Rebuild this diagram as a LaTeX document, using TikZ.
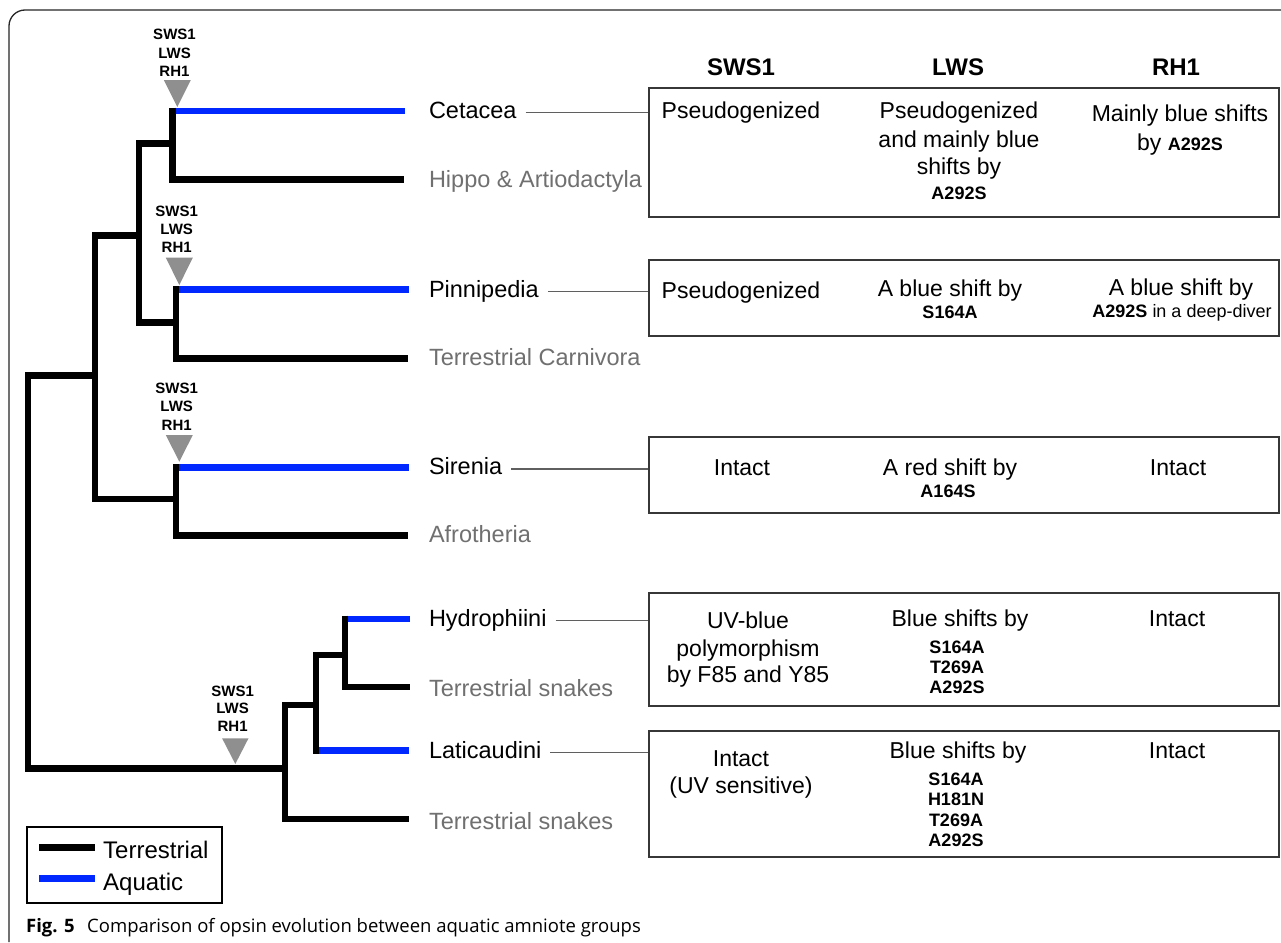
\documentclass[tikz,border=0pt]{standalone}
\usepackage{fontspec}
\setmainfont{Liberation Sans}
\newfontfamily\capfont{Open Sans}
\definecolor{aqua}{RGB}{0,40,255}
\definecolor{tgray}{RGB}{112,112,112}
\definecolor{trigray}{RGB}{143,143,143}
\definecolor{linegray}{RGB}{95,95,95}
\definecolor{boxgray}{RGB}{55,55,55}
\tikzset{
  terr/.style={line width=6.5pt, draw=black, line join=miter},
  aq/.style={line width=6.5pt, draw=aqua},
  grp/.style={anchor=base west, inner sep=0pt, outer xsep=9pt, font=\fontsize{23.5}{27}\selectfont},
  aqlbl/.style={grp, text=black},
  trlbl/.style={grp, text=tgray},
  cell/.style={anchor=base, inner sep=0pt, font=\fontsize{23}{27}\selectfont},
  mut/.style={anchor=base, inner sep=0pt, font=\fontsize{18}{20}\selectfont\bfseries},
  hdr/.style={anchor=base, inner sep=0pt, font=\fontsize{24}{28}\selectfont\bfseries},
  op/.style={anchor=base, inner sep=0pt, font=\fontsize{15}{18}\selectfont\bfseries},
  tri/.style={fill=trigray},
  tbox/.style={draw=boxgray, line width=1.5pt, minimum width=630pt, inner sep=0pt},
  conn/.style={draw=linegray, line width=1.5pt},
}
\begin{document}
\begin{tikzpicture}[x=1pt,y=-1pt]
\useasboundingbox (0,0) rectangle (1281,942);
\fill[white] (0,0) rectangle (1281,942);
% frame
\draw[draw=black!85, line width=1.3pt, rounded corners=16pt] (9,942) -- (9,10) -- (1281,10);

% ---- tree (terrestrial = black) ----
\draw[terr] (172.5,107.7) -- (172.5,179.5) -- (404,179.5);
\draw[terr] (172.5,143.7) -- (139,143.7) -- (139,322.5) -- (176,322.5);
\draw[terr] (176,286.2) -- (176,358.3) -- (408,358.3);
\draw[terr] (139,235.7) -- (95,235.7) -- (95,499) -- (176,499);
\draw[terr] (176,464) -- (176,535.7) -- (408,535.7);
\draw[terr] (95,375.7) -- (27.8,375.7) -- (27.8,768.3) -- (285,768.3);
\draw[terr] (316,705) -- (285,705) -- (285,819) -- (408.7,819);
\draw[terr] (344,655) -- (316,655) -- (316,753.5);
\draw[terr] (345,615.5) -- (345,687.2) -- (410,687.2);
% aquatic branches
\draw[aq] (175.75,111) -- (405,111);
\draw[aq] (179.25,289.5) -- (409,289.5);
\draw[aq] (179.25,467.3) -- (409,467.3);
\draw[aq] (348.25,618.8) -- (410,618.8);
\draw[aq] (319.25,750.3) -- (408.5,750.3);

% ---- opsin-loss markers ----
\fill[tri] (163.8,80) -- (190.8,80) -- (177.3,107) -- cycle;
\node[op] (o1a) at (174.5,40) {SWS1};
\node[op] (o1b) at (174.5,58.3) {LWS};
\node[op] (o1c) at (174.5,76.3) {RH1};
\fill[tri] (165.8,257.7) -- (192.8,257.7) -- (179.3,285) -- cycle;
\node[op] (o2a) at (176.7,216.7) {SWS1};
\node[op] (o2b) at (176.7,234.3) {LWS};
\node[op] (o2c) at (176.7,252.3) {RH1};
\fill[tri] (165.8,435) -- (192.8,435) -- (179.3,461.7) -- cycle;
\node[op] (o3a) at (176.7,393.3) {SWS1};
\node[op] (o3b) at (176.7,411.7) {LWS};
\node[op] (o3c) at (176.7,430.7) {RH1};
\fill[tri] (222.1,738.3) -- (248.5,738.3) -- (235.3,764) -- cycle;
\node[op] (o4a) at (232.6,696) {SWS1};
\node[op] (o4b) at (232.6,713.3) {LWS};
\node[op] (o4c) at (232.6,731.7) {RH1};

% ---- group labels ----
\node[aqlbl] (cet) at (420,118) {Cetacea};
\node[trlbl] (hip) at (420,187) {Hippo \& Artiodactyla};
\node[aqlbl] (pin) at (420,297) {Pinnipedia};
\node[trlbl] (car) at (420,365) {Terrestrial Carnivora};
\node[aqlbl] (sir) at (420,474.5) {Sirenia};
\node[trlbl] (afr) at (420,542) {Afrotheria};
\node[aqlbl] (hyd) at (420,626.5) {Hydrophiini};
\node[trlbl] (ts1) at (420,696) {Terrestrial snakes};
\node[aqlbl] (lat) at (420,758) {Laticaudini};
\node[trlbl] (ts2) at (420,829.5) {Terrestrial snakes};

% ---- column headers ----
\node[hdr] (hs) at (741,75.6) {SWS1};
\node[hdr] (hl) at (958,75.6) {LWS};
\node[hdr] (hr) at (1176,75.6) {RH1};

% ---- boxes ----
\node[tbox, minimum height=129pt] (cbox) at (964,152.5) {};
\node[tbox, minimum height=76pt] (pbox) at (964,298) {};
\node[tbox, minimum height=76pt] (sbox) at (964,475) {};
\node[tbox, minimum height=113pt] (hbox) at (964,649.5) {};
\node[tbox, minimum height=126pt] (lbox) at (964,794) {};

% connectors
\coordinate (cetA) at ([yshift=5.5pt]cet.base east);
\draw[conn] (cetA) -- (cetA -| cbox.west);
\coordinate (pinA) at ([yshift=5.5pt]pin.base east);
\draw[conn] (pinA) -- (pinA -| pbox.west);
\coordinate (sirA) at ([yshift=5.5pt]sir.base east);
\draw[conn] (sirA) -- (sirA -| sbox.west);
\coordinate (hydA) at ([yshift=6pt]hyd.base east);
\draw[conn] (hydA) -- (hydA -| hbox.west);
\coordinate (latA) at ([yshift=5.5pt]lat.base east);
\draw[conn] (latA) -- (latA -| lbox.west);

% Cetacea box
\node[cell] (c1) at (741,118) {Pseudogenized};
\node[cell] (c2a) at (959,118) {Pseudogenized};
\node[cell] (c2b) at (959,147) {and mainly blue};
\node[cell] (c2c) at (959,174) {shifts by};
\node[mut] (c2d) at (959,199.5) {A292S};
\node[cell] (c3a) at (1180,121) {Mainly blue shifts};
\node[cell] (c3b) at (1180,150) {by {\fontsize{18}{20}\selectfont\bfseries A292S}};
% Pinnipedia box
\node[cell] (p1) at (741,298) {Pseudogenized};
\node[cell] (p2a) at (950,296) {A blue shift by};
\node[mut] (p2b) at (950,318.5) {S164A};
\node[cell] (p3a) at (1181,295) {A blue shift by};
\node[anchor=base, inner sep=0pt, font=\fontsize{18}{20}\selectfont] (p3b) at (1182,317) {\textbf{A292S} in a deep-diver};
% Sirenia box
\node[cell] (s1) at (742,475) {Intact};
\node[cell] (s2a) at (950,475) {A red shift by};
\node[mut] (s2b) at (948,497.5) {A164S};
\node[cell] (s3) at (1178,475) {Intact};
% Hydrophiini box
\node[cell] (h1a) at (748,628) {UV-blue};
\node[cell] (h1b) at (748,656) {polymorphism};
\node[cell] (h1c) at (748,682) {by F85 and Y85};
\node[cell] (h2a) at (960,626) {Blue shifts by};
\node[mut] (h2b) at (957,653.5) {S164A};
\node[mut] (h2c) at (957,673.5) {T269A};
\node[mut] (h2d) at (957,693.5) {A292S};
\node[cell] (h3) at (1177,626) {Intact};
% Laticaudini box
\node[cell] (l1a) at (741,766) {Intact};
\node[cell] (l1b) at (741,793) {(UV sensitive)};
\node[cell] (l2a) at (958,758) {Blue shifts by};
\node[mut] (l2b) at (956,785.5) {S164A};
\node[mut] (l2c) at (956,805.5) {H181N};
\node[mut] (l2d) at (956,826.5) {T269A};
\node[mut] (l2e) at (956,846.5) {A292S};
\node[cell] (l3) at (1177,758) {Intact};

% ---- legend ----
\node[draw=black, line width=2pt, minimum width=195pt, minimum height=76pt, inner sep=0pt] (leg) at (124.5,865) {};
\draw[line width=7pt, black] (39,847) -- (95,847);
\draw[line width=7pt, aqua] (39,878) -- (95,878);
\node[anchor=base west, inner sep=0pt, font=\fontsize{24}{28}\selectfont] (lt) at (103,858) {Terrestrial};
\node[anchor=base west, inner sep=0pt, font=\fontsize{24}{28}\selectfont] (la) at (103,890) {Aquatic};

% ---- caption ----
\node[anchor=base west, inner sep=0pt, font=\capfont\fontsize{18.5}{22}\selectfont\bfseries] (fig) at (26,932) {Fig. 5};
\node[anchor=base west, inner sep=0pt, font=\capfont\fontsize{18.5}{22}\selectfont] (cap) at (87,932) {Comparison of opsin evolution between aquatic amniote groups};
\end{tikzpicture}
\end{document}
